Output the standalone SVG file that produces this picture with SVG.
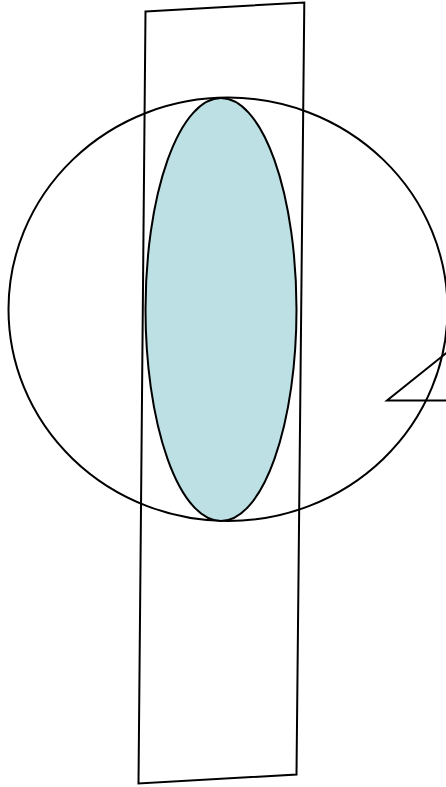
<svg xmlns="http://www.w3.org/2000/svg" width="446" height="787" viewBox="0 0 446 787">
  <style>
    .ln { fill: none; stroke: #000; stroke-width: 2; stroke-linejoin: miter; }
    .blue { fill: #bce0e3; stroke: #000; stroke-width: 2; }
  </style>
  <rect width="446" height="787" fill="#fff"/>
  <g id="plane">
    <polygon class="ln" points="145.5,11.5 304.3,2.5 296.5,774.5 138.5,783.5"/>
  </g>
  <g id="sphere">
    <ellipse class="ln" cx="228" cy="309.3" rx="219.5" ry="211.7"/>
  </g>
  <g id="section">
    <ellipse class="blue" cx="221" cy="309.5" rx="75.5" ry="211.5"/>
  </g>
  <g id="connectors">
    <polyline class="ln" points="447,352.5 387,400.5 447,400.5"/>
  </g>
</svg>
